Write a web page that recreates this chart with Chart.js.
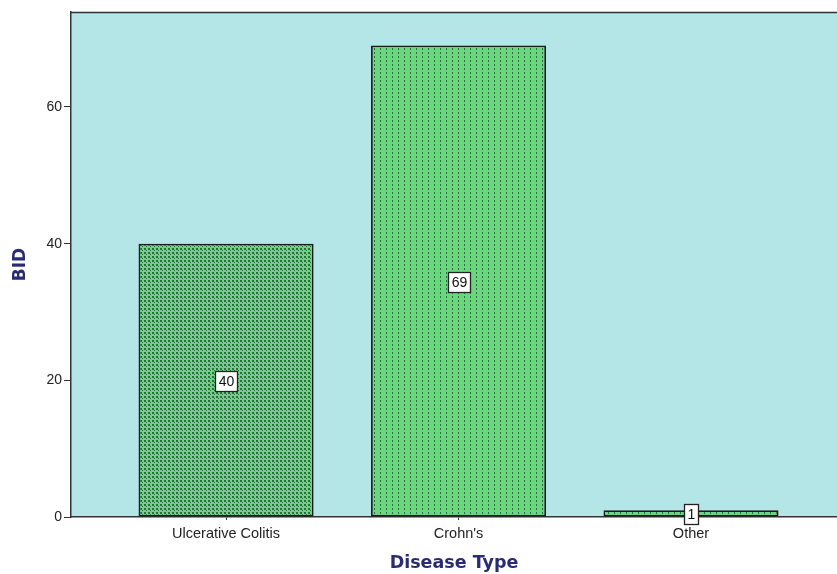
<!DOCTYPE html>
<html>
<head>
<meta charset="utf-8">
<script src="https://cdn.jsdelivr.net/npm/chart.js@4"></script>
<style>
  html, body { margin: 0; padding: 0; background: #ffffff; overflow: hidden; }
  #wrap { width: 837px; height: 574px; }
</style>
</head>
<body>
<div id="wrap"><canvas id="c" width="837" height="574"></canvas></div>
<script>
// Patients per disease type
const categories = ["Ulcerative Colitis", "Crohn's", "Other"];
const counts = [40, 69, 1];
const yTicks = [0, 20, 40, 60];

const BAR_GREEN = '#68d87b';
const DOT_DARK = '#35684a';
const PLOT_BG = '#b4e6e7';
const TITLE_NAVY = '#2b2b74';
const AXIS_GREY = '#333333';

// Fill patterns: small checker squares for the first bar, dotted columns for the others
function makePattern(w, h, dots) {
  const t = document.createElement('canvas');
  t.width = w; t.height = h;
  const g = t.getContext('2d');
  g.fillStyle = BAR_GREEN;
  g.fillRect(0, 0, w, h);
  g.fillStyle = DOT_DARK;
  dots.forEach(([x, y, dw, dh]) => g.fillRect(x, y, dw, dh));
  return document.getElementById('c').getContext('2d').createPattern(t, 'repeat');
}
const checker = makePattern(4, 4, [[0, 0, 2, 2], [2, 2, 1, 1]]);
const columns = makePattern(6, 4, [[2, 0, 1, 2]]);
const fills = [checker, columns, columns];

const plotBackground = {
  id: 'plotBackground',
  beforeDraw(chart) {
    const { ctx, chartArea: a } = chart;
    ctx.save();
    ctx.fillStyle = PLOT_BG;
    ctx.fillRect(a.left, a.top, a.right - a.left, a.bottom - a.top);
    ctx.strokeStyle = AXIS_GREY;
    ctx.lineWidth = 1.5;
    ctx.beginPath();
    ctx.moveTo(a.left, a.top + 0.5);
    ctx.lineTo(a.right, a.top + 0.5);
    ctx.stroke();
    ctx.restore();
  }
};

// Boxed value label in the middle of each bar
const valueBoxes = {
  id: 'valueBoxes',
  afterDatasetsDraw(chart) {
    const { ctx } = chart;
    const meta = chart.getDatasetMeta(0);
    ctx.save();
    ctx.font = '14px "Liberation Sans", Arial, sans-serif';
    ctx.textAlign = 'center';
    ctx.textBaseline = 'middle';
    meta.data.forEach((bar, i) => {
      const text = String(counts[i]);
      const cx = Math.round(bar.x);
      const cy = Math.round((bar.y + bar.base) / 2) + 1;
      const w = Math.ceil(ctx.measureText(text).width) + 6;
      const h = 20;
      const x0 = cx - Math.round(w / 2) + 0.5;
      const y0 = cy - h / 2 + 0.5;
      ctx.fillStyle = '#ffffff';
      ctx.fillRect(x0, y0, w, h);
      ctx.strokeStyle = '#222222';
      ctx.lineWidth = 1.3;
      ctx.strokeRect(x0, y0, w, h);
      ctx.fillStyle = '#111111';
      ctx.fillText(text, cx + 0.5, cy + 1);
    });
    ctx.restore();
  }
};

new Chart(document.getElementById('c'), {
  type: 'bar',
  data: {
    datasets: [{
      data: categories.map((c, i) => ({ x: i + 1, y: counts[i] })),
      backgroundColor: fills,
      borderColor: '#1a1a1a',
      borderWidth: 1.8,
      borderSkipped: false,
      categoryPercentage: 1,
      barPercentage: 0.753
    }]
  },
  options: {
    responsive: false,
    devicePixelRatio: 1,
    animation: false,
    layout: { padding: { top: 12, right: 0, left: 0, bottom: 0 } },
    plugins: { legend: { display: false }, tooltip: { enabled: false } },
    scales: {
      x: {
        type: 'linear',
        offset: false,
        min: 0.333,
        max: 3.628,
        afterBuildTicks(axis) { axis.ticks = categories.map((c, i) => ({ value: i + 1 })); },
        afterFit(axis) { axis.height = 57; },
        ticks: {
          color: '#222222',
          font: { family: '"Liberation Sans", Arial, sans-serif', size: 14.5 },
          padding: 5,
          maxRotation: 0,
          autoSkip: false,
          callback: (v) => categories[Math.round(v) - 1]
        },
        grid: { offset: false, drawOnChartArea: false, drawTicks: true, tickLength: 3, tickColor: AXIS_GREY },
        border: { color: AXIS_GREY, width: 1.5 },
        title: {
          display: true,
          text: 'Disease Type',
          color: TITLE_NAVY,
          font: { family: '"DejaVu Sans", Verdana, sans-serif', size: 17.5, weight: 'bold' },
          padding: { top: 2, bottom: 0 }
        }
      },
      y: {
        min: 0,
        max: 73.9,
        afterBuildTicks(axis) { axis.ticks = yTicks.map(v => ({ value: v })); },
        afterFit(axis) { axis.width = 71; },
        ticks: {
          color: '#222222',
          font: { family: '"Liberation Sans", Arial, sans-serif', size: 14 },
          padding: 2
        },
        grid: { drawOnChartArea: false, drawTicks: true, tickLength: 7, tickColor: AXIS_GREY },
        border: { color: AXIS_GREY, width: 1.5 },
        title: {
          display: true,
          text: 'BID',
          color: TITLE_NAVY,
          font: { family: '"DejaVu Sans", Verdana, sans-serif', size: 17, weight: 'bold' },
          padding: { top: 10, bottom: 0 }
        }
      }
    }
  },
  plugins: [plotBackground, valueBoxes]
});
</script>
</body>
</html>
